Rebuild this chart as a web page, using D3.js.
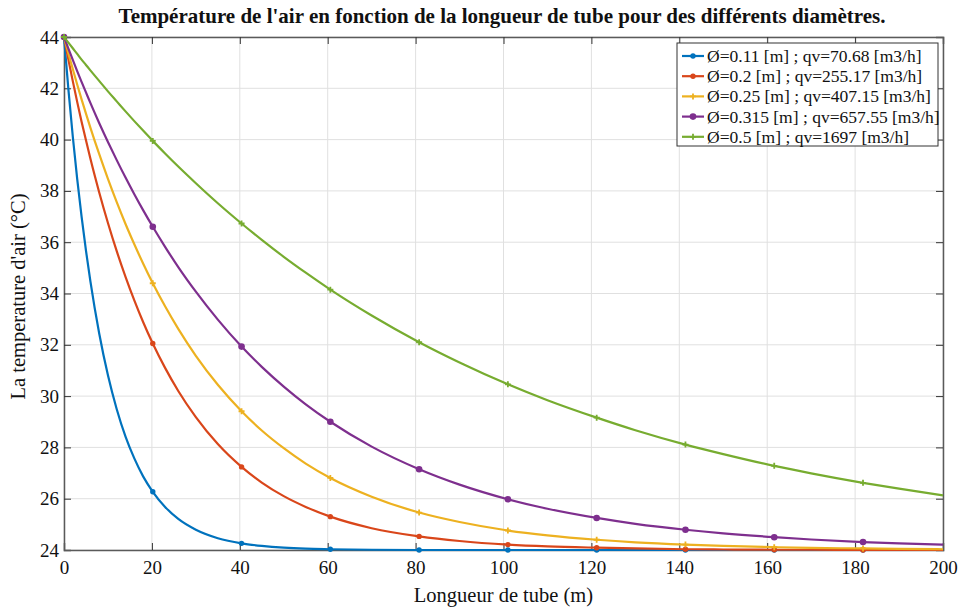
<!DOCTYPE html>
<html>
<head>
<meta charset="utf-8">
<script src="https://cdn.jsdelivr.net/npm/d3@7"></script>
<style>
  html, body { margin: 0; padding: 0; background: #fff; }
  svg { display: block; }
  text { font-family: "Liberation Serif", "DejaVu Serif", serif; fill: #111; }
</style>
</head>
<body>
<svg id="chart" width="960" height="609"></svg>
<script>
// Tube length sample positions (m)
const lengths = [0, 1, 2, 3, 4, 5, 6, 8, 10, 12, 14, 16, 18, 20.2, 23, 26, 30, 35, 40.4, 45, 50, 55,
  60.6, 70, 80.8, 90, 101, 110, 121.2, 130, 141.4, 150, 161.6, 170, 181.8, 190, 200];
// Positions carrying a marker
const markerLengths = [0, 20.2, 40.4, 60.6, 80.8, 101, 121.2, 141.4, 161.6, 181.8];

// Air temperature (°C) along the tube, one array per diameter
const tempD011 = [44, 41.96, 40.12, 38.47, 37.00, 35.67, 34.48, 32.45, 30.81, 29.49, 28.42, 27.57, 26.87, 26.27,
  25.68, 25.21, 24.79, 24.46, 24.26, 24.16, 24.09, 24.05, 24.03, 24.01, 24.00, 24.00, 24.00, 24.00, 24.00,
  24.00, 24.00, 24.00, 24.00, 24.00, 24.00, 24.00, 24.00];
const tempD020 = [44, 43.12, 42.28, 41.47, 40.70, 39.97, 39.26, 37.95, 36.75, 35.65, 34.65, 33.73, 32.89, 32.05,
  31.10, 30.20, 29.18, 28.13, 27.24, 26.63, 26.10, 25.68, 25.30, 24.85, 24.53, 24.35, 24.21, 24.14, 24.09,
  24.06, 24.03, 24.02, 24.01, 24.01, 24.00, 24.00, 24.00];
const tempD025 = [44, 43.36, 42.75, 42.15, 41.57, 41.01, 40.47, 39.44, 38.47, 37.56, 36.71, 35.92, 35.17, 34.40,
  33.50, 32.62, 31.57, 30.44, 29.41, 28.66, 27.97, 27.37, 26.81, 26.08, 25.46, 25.09, 24.76, 24.57, 24.40,
  24.30, 24.21, 24.16, 24.11, 24.08, 24.06, 24.04, 24.03];
const tempD0315 = [44, 43.55, 43.11, 42.67, 42.25, 41.84, 41.43, 40.65, 39.91, 39.20, 38.52, 37.87, 37.25, 36.60,
  35.82, 35.03, 34.07, 32.98, 31.93, 31.14, 30.37, 29.68, 29.00, 28.03, 27.15, 26.55, 25.98, 25.61, 25.25,
  25.02, 24.79, 24.65, 24.50, 24.41, 24.31, 24.26, 24.21];
const tempD050 = [44, 43.78, 43.56, 43.34, 43.12, 42.91, 42.70, 42.29, 41.88, 41.49, 41.10, 40.72, 40.35, 39.95,
  39.46, 38.95, 38.30, 37.52, 36.73, 36.09, 35.43, 34.81, 34.15, 33.14, 32.10, 31.31, 30.46, 29.84, 29.16,
  28.67, 28.11, 27.74, 27.28, 26.99, 26.62, 26.39, 26.13];

const seriesLabels = [
  "Ø=0.11 [m] ; qv=70.68 [m3/h]",
  "Ø=0.2 [m] ; qv=255.17 [m3/h]",
  "Ø=0.25 [m] ; qv=407.15 [m3/h]",
  "Ø=0.315 [m] ; qv=657.55 [m3/h]",
  "Ø=0.5 [m] ; qv=1697 [m3/h]"
];
const seriesValues = [tempD011, tempD020, tempD025, tempD0315, tempD050];

const xTicks = [0, 20, 40, 60, 80, 100, 120, 140, 160, 180, 200];
const yTicks = [24, 26, 28, 30, 32, 34, 36, 38, 40, 42, 44];

// Styling
const colors = ["#0072BD", "#D9461A", "#EDB120", "#7E2F8E", "#77AC30"];
const markerKinds = ["dot", "dot", "plus", "bigdot", "plus"];

const svg = d3.select("#chart");
const margin = { left: 64, right: 17, top: 37, bottom: 59 };
const W = 960, H = 609;
const iw = W - margin.left - margin.right;
const ih = H - margin.top - margin.bottom;

const x = d3.scaleLinear().domain([0, 200]).range([margin.left, margin.left + iw]);
const y = d3.scaleLinear().domain([24, 44]).range([margin.top + ih, margin.top]);

// Grid
const grid = svg.append("g");
grid.selectAll("line.vx").data(xTicks).join("line")
  .attr("x1", d => x(d)).attr("x2", d => x(d))
  .attr("y1", y(24)).attr("y2", y(44))
  .attr("stroke", "#e0e0e0").attr("stroke-width", 1);
grid.selectAll("line.hy").data(yTicks).join("line")
  .attr("x1", x(0)).attr("x2", x(200))
  .attr("y1", d => y(d)).attr("y2", d => y(d))
  .attr("stroke", "#e0e0e0").attr("stroke-width", 1);

// Axes (ticks inside, box on all sides)
const axisColor = "#5a5a5a";
const tl = 7;
const xb = svg.append("g").attr("transform", `translate(0,${y(24)})`)
  .call(d3.axisBottom(x).tickValues(xTicks).tickSize(-tl).tickPadding(11).tickFormat(d3.format("d")));
const xt = svg.append("g").attr("transform", `translate(0,${y(44)})`)
  .call(d3.axisTop(x).tickValues(xTicks).tickSize(-tl).tickFormat(""));
const yl = svg.append("g").attr("transform", `translate(${x(0)},0)`)
  .call(d3.axisLeft(y).tickValues(yTicks).tickSize(-tl).tickPadding(5).tickFormat(d3.format("d")));
const yr = svg.append("g").attr("transform", `translate(${x(200)},0)`)
  .call(d3.axisRight(y).tickValues(yTicks).tickSize(-tl).tickFormat(""));
[xb, xt, yl, yr].forEach(g => {
  g.select(".domain").attr("stroke", axisColor).attr("stroke-width", 1.5);
  g.selectAll(".tick line").attr("stroke", "#333").attr("stroke-width", 1);
  g.selectAll(".tick text").attr("fill", "#111").style("font-size", "19px")
    .style("font-family", "'Liberation Serif', serif");
});
// keep the end ticks from overdrawing the box corners
xb.selectAll(".tick").filter(d => d === 0 || d === 200).select("line").remove();
xt.selectAll(".tick").filter(d => d === 0 || d === 200).select("line").remove();
yl.selectAll(".tick").filter(d => d === 24 || d === 44).select("line").remove();
yr.selectAll(".tick").filter(d => d === 24 || d === 44).select("line").remove();

// Markers
function drawMarker(g, kind, cx, cy, color) {
  if (kind === "plus") {
    const s = 3;
    g.append("path")
      .attr("d", `M${cx - s},${cy}H${cx + s}M${cx},${cy - s}V${cy + s}`)
      .attr("stroke", color).attr("stroke-width", 1.8);
  } else {
    g.append("circle").attr("cx", cx).attr("cy", cy)
      .attr("r", kind === "bigdot" ? 3.3 : 2.7).attr("fill", color);
  }
}

// Curves
const line = d3.line().x(d => x(d[0])).y(d => y(d[1])).curve(d3.curveMonotoneX);
const plot = svg.append("g");
seriesValues.forEach((vals, i) => {
  const pts = lengths.map((l, k) => [l, vals[k]]);
  const g = plot.append("g");
  g.append("path").datum(pts).attr("d", line)
    .attr("fill", "none").attr("stroke", colors[i]).attr("stroke-width", 2.2)
    .attr("stroke-linejoin", "round");
  pts.filter(p => markerLengths.includes(p[0]))
    .forEach(p => drawMarker(g, markerKinds[i], x(p[0]), y(p[1]), colors[i]));
});

// Title
svg.append("text").attr("x", 502).attr("y", 23).attr("text-anchor", "middle")
  .style("font-size", "21px").style("font-weight", "bold")
  .text("Température de l'air en fonction de la longueur de tube pour des différents diamètres.");

// Axis labels
svg.append("text").attr("x", x(100)).attr("y", 602).attr("text-anchor", "middle")
  .style("font-size", "20.5px").text("Longueur de tube (m)");
svg.append("text").attr("transform", `translate(25,${y(34) + 3}) rotate(-90)`)
  .attr("text-anchor", "middle").style("font-size", "20.5px")
  .text("La temperature d'air (°C)");

// Legend
const lg = svg.append("g");
const lx = 677, ly = 43, lw = 261, lh = 103, rowH = 20.2;
lg.append("rect").attr("x", lx).attr("y", ly).attr("width", lw).attr("height", lh)
  .attr("fill", "#fff").attr("stroke", "#333").attr("stroke-width", 1);
seriesLabels.forEach((lab, i) => {
  const cy = ly + 13 + i * rowH;
  lg.append("line").attr("x1", lx + 5).attr("x2", lx + 27).attr("y1", cy).attr("y2", cy)
    .attr("stroke", colors[i]).attr("stroke-width", 2.2);
  drawMarker(lg, markerKinds[i], lx + 16, cy, colors[i]);
  lg.append("text").attr("x", lx + 30).attr("y", cy + 6)
    .style("font-size", "17.5px").text(lab);
});
</script>
</body>
</html>
